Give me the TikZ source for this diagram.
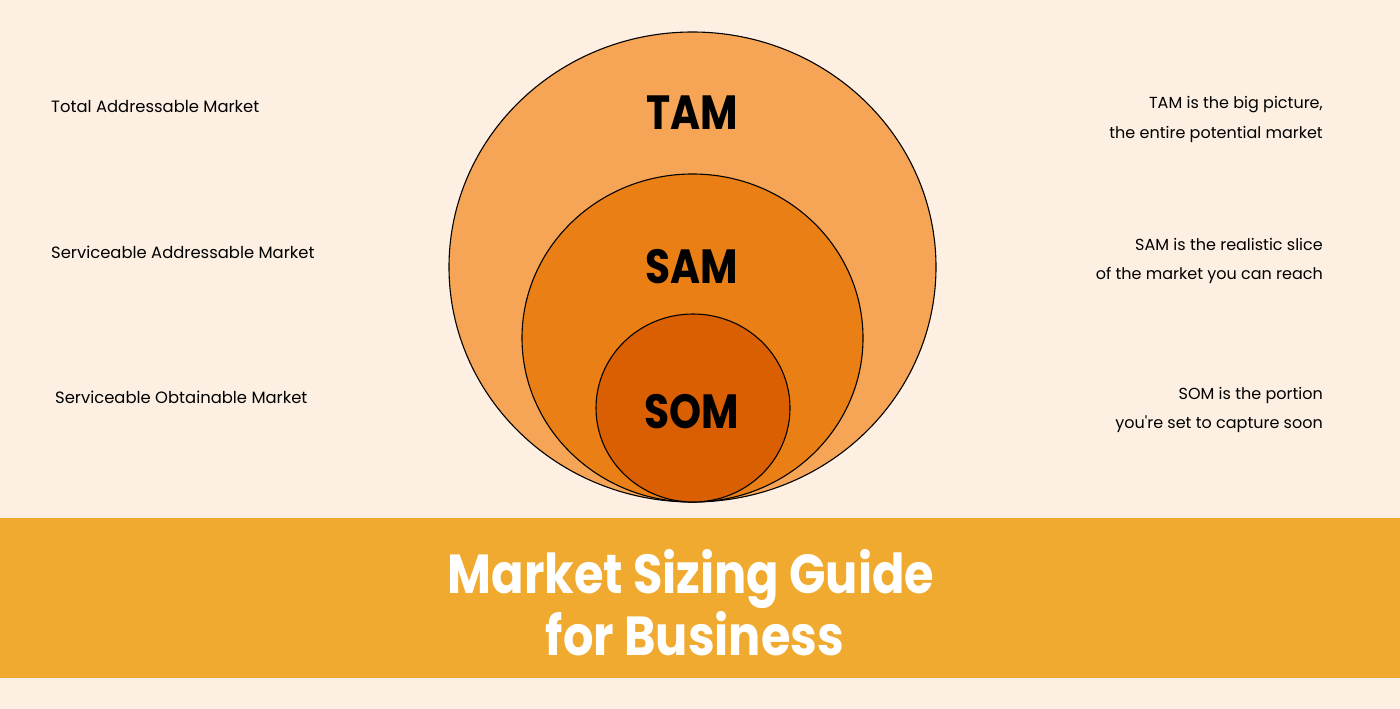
\documentclass[tikz,border=0pt]{standalone}
\usepackage{fontspec}
\setmainfont{Poppins}
\newfontfamily\condfont{Poppins}[FakeStretch=0.85]
\newfontfamily\titlefont{Poppins}[FakeStretch=0.87]
\definecolor{bgc}{HTML}{FDF0E3}
\definecolor{bannerc}{HTML}{F0AA30}
\definecolor{tamc}{HTML}{F5A555}
\definecolor{samc}{HTML}{EA8015}
\definecolor{somc}{HTML}{DA5E02}
\begin{document}
\begin{tikzpicture}[x=1pt,y=-1pt,
  ring/.style={draw=black,line width=1.1pt},
  big/.style={font=\condfont\fontsize{48}{48}\selectfont\bfseries,anchor=base,inner sep=0pt},
  lside/.style={font=\fontsize{16.4}{16.4}\selectfont,inner sep=0pt,anchor=base west},
  rside/.style={font=\fontsize{16}{16}\selectfont,inner sep=0pt,anchor=base east},
  title/.style={font=\titlefont\fontsize{55}{55}\selectfont\bfseries,text=white,anchor=base,inner sep=0pt}]
\useasboundingbox (0,0) rectangle (1400,709);
\fill[bgc] (0,0) rectangle (1400,709);
\fill[bannerc] (0,518) rectangle (1400,678);
\draw[ring,fill=tamc] (692.5,267) ellipse [x radius=243.5, y radius=235];
\draw[ring,fill=samc] (692.5,338) ellipse [x radius=170.5, y radius=164];
\draw[ring,fill=somc] (693,408) ellipse [x radius=97, y radius=94];
\node[big] (tam) at (692,129) {TAM};
\node[big] (sam) at (692,283) {SAM};
\node[big] (som) at (692,428) {SOM};
\node[lside] (ltam) at (51,112) {Total Addressable Market};
\node[lside] (lsam) at (51,258) {Serviceable Addressable Market};
\node[lside] (lsom) at (55,403) {Serviceable Obtainable Market};
\node[rside] (rtam1) at (1323,108) {TAM is the big picture,};
\node[rside] (rtam2) at (1323,138) {the entire potential market};
\node[rside] (rsam1) at (1323,250) {SAM is the realistic slice};
\node[rside] (rsam2) at (1323,279) {of the market you can reach};
\node[rside] (rsom1) at (1323,399) {SOM is the portion};
\node[rside] (rsom2) at (1323,428) {you\textquotesingle re set to capture soon};
\node[title] (t1) at (691,593) {Market Sizing Guide};
\node[title] (t2) at (695,655) {for Business};
\end{tikzpicture}
\end{document}
